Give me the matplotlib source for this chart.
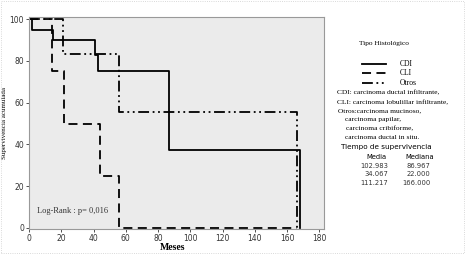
import matplotlib
matplotlib.use("Agg")
from matplotlib import pyplot as plt

# Kaplan-Meier curves
cdi_t = [0, 2, 15, 41, 43, 87, 168]
cdi_s = [100, 95, 90, 83, 75, 37.5, 0]
cli_t = [0, 14, 22, 44, 56, 166]
cli_s = [100, 75, 50, 25, 0, 0]
otros_t = [0, 21, 56, 166]
otros_s = [100, 83.3, 55.6, 0]

x_ticks = [0, 20, 40, 60, 80, 100, 120, 140, 160, 180]
y_ticks = [0, 20, 40, 60, 80, 100]

groups = ["CDI", "CLI", "Otros"]
medias = ["102.983", "34.067", "111.217"]
medianas = ["86.967", "22.000", "166.000"]

serif = "Liberation Serif"

fig = plt.figure(figsize=(4.65, 2.54), dpi=100)
ax = fig.add_axes([0.0624, 0.0984, 0.6346, 0.8346])
ax.set_facecolor("#ebebeb")

ax.step(cdi_t, cdi_s, where="post", color="black", lw=1.3, linestyle="-")
ax.step(cli_t, cli_s, where="post", color="black", lw=1.3, linestyle=(0, (5, 3)))
ax.step(otros_t, otros_s, where="post", color="black", lw=1.3,
        linestyle=(0, (6, 2, 1, 2, 1, 2)))

ax.set_xlim(0, 183)
ax.set_ylim(-0.5, 101)
ax.set_xticks(x_ticks)
ax.set_yticks(y_ticks)
ax.tick_params(labelsize=5.5, length=2, width=0.6, pad=1.5, colors="#333333")
for s in ax.spines.values():
    s.set_color("#999999")
    s.set_linewidth(0.8)

ax.set_xlabel("Meses", family=serif, fontsize=7, fontweight="bold", labelpad=2)
ax.xaxis.set_label_coords(0.485, -0.065)
ax.set_ylabel("Supervivencia acumulada", family=serif, fontsize=5, labelpad=2)
ax.text(5, 8, "Log-Rank : p= 0,016", family=serif, fontsize=6, color="#333333",
        va="center")

# right panel: legend and notes
fig.text(0.826, 0.827, "Tipo Histológico", family=serif, fontsize=5.3,
         ha="center", va="center")
leg_y = [0.748, 0.713, 0.673]
styles = ["-", (0, (5, 3)), (0, (6, 2, 1, 2, 1, 2))]
for yy, name, ls in zip(leg_y, groups, styles):
    fig.add_artist(plt.Line2D([0.778, 0.830], [yy, yy], color="black", lw=1.3,
                              linestyle=ls, transform=fig.transFigure))
    fig.text(0.86, yy, name, family=serif, fontsize=5.5, va="center")

notes = [
    (0.724, 0.634, "CDI: carcinoma ductal infiltrante,"),
    (0.724, 0.597, "CLI: carcinoma lobulillar infiltrante,"),
    (0.727, 0.564, "Otros:carcinoma mucinoso,"),
    (0.741, 0.530, "carcinoma papilar,"),
    (0.745, 0.495, "carcinoma cribiforme,"),
    (0.741, 0.457, "carcinoma ductal in situ."),
]
for xx, yy, t in notes:
    fig.text(xx, yy, t, family=serif, fontsize=5.4, va="center")

fig.text(0.830, 0.421, "Tiempo de supervivencia", fontsize=5.2, ha="center",
         va="center")
fig.text(0.810, 0.382, "Media", fontsize=4.9, ha="center", va="center")
fig.text(0.903, 0.382, "Mediana", fontsize=4.9, ha="center", va="center")
for i, (m, md) in enumerate(zip(medias, medianas)):
    yy = 0.346 - i * 0.033
    fig.text(0.835, yy, m, fontsize=4.9, ha="right", va="center", color="#333333")
    fig.text(0.925, yy, md, fontsize=4.9, ha="right", va="center", color="#333333")

# light dotted frame round the whole image
fig.add_artist(plt.Rectangle((0.002, 0.004), 0.995, 0.992, fill=False,
                             edgecolor="#cccccc", lw=0.6, linestyle=":",
                             transform=fig.transFigure))

fig.savefig("out.png", dpi=100)
